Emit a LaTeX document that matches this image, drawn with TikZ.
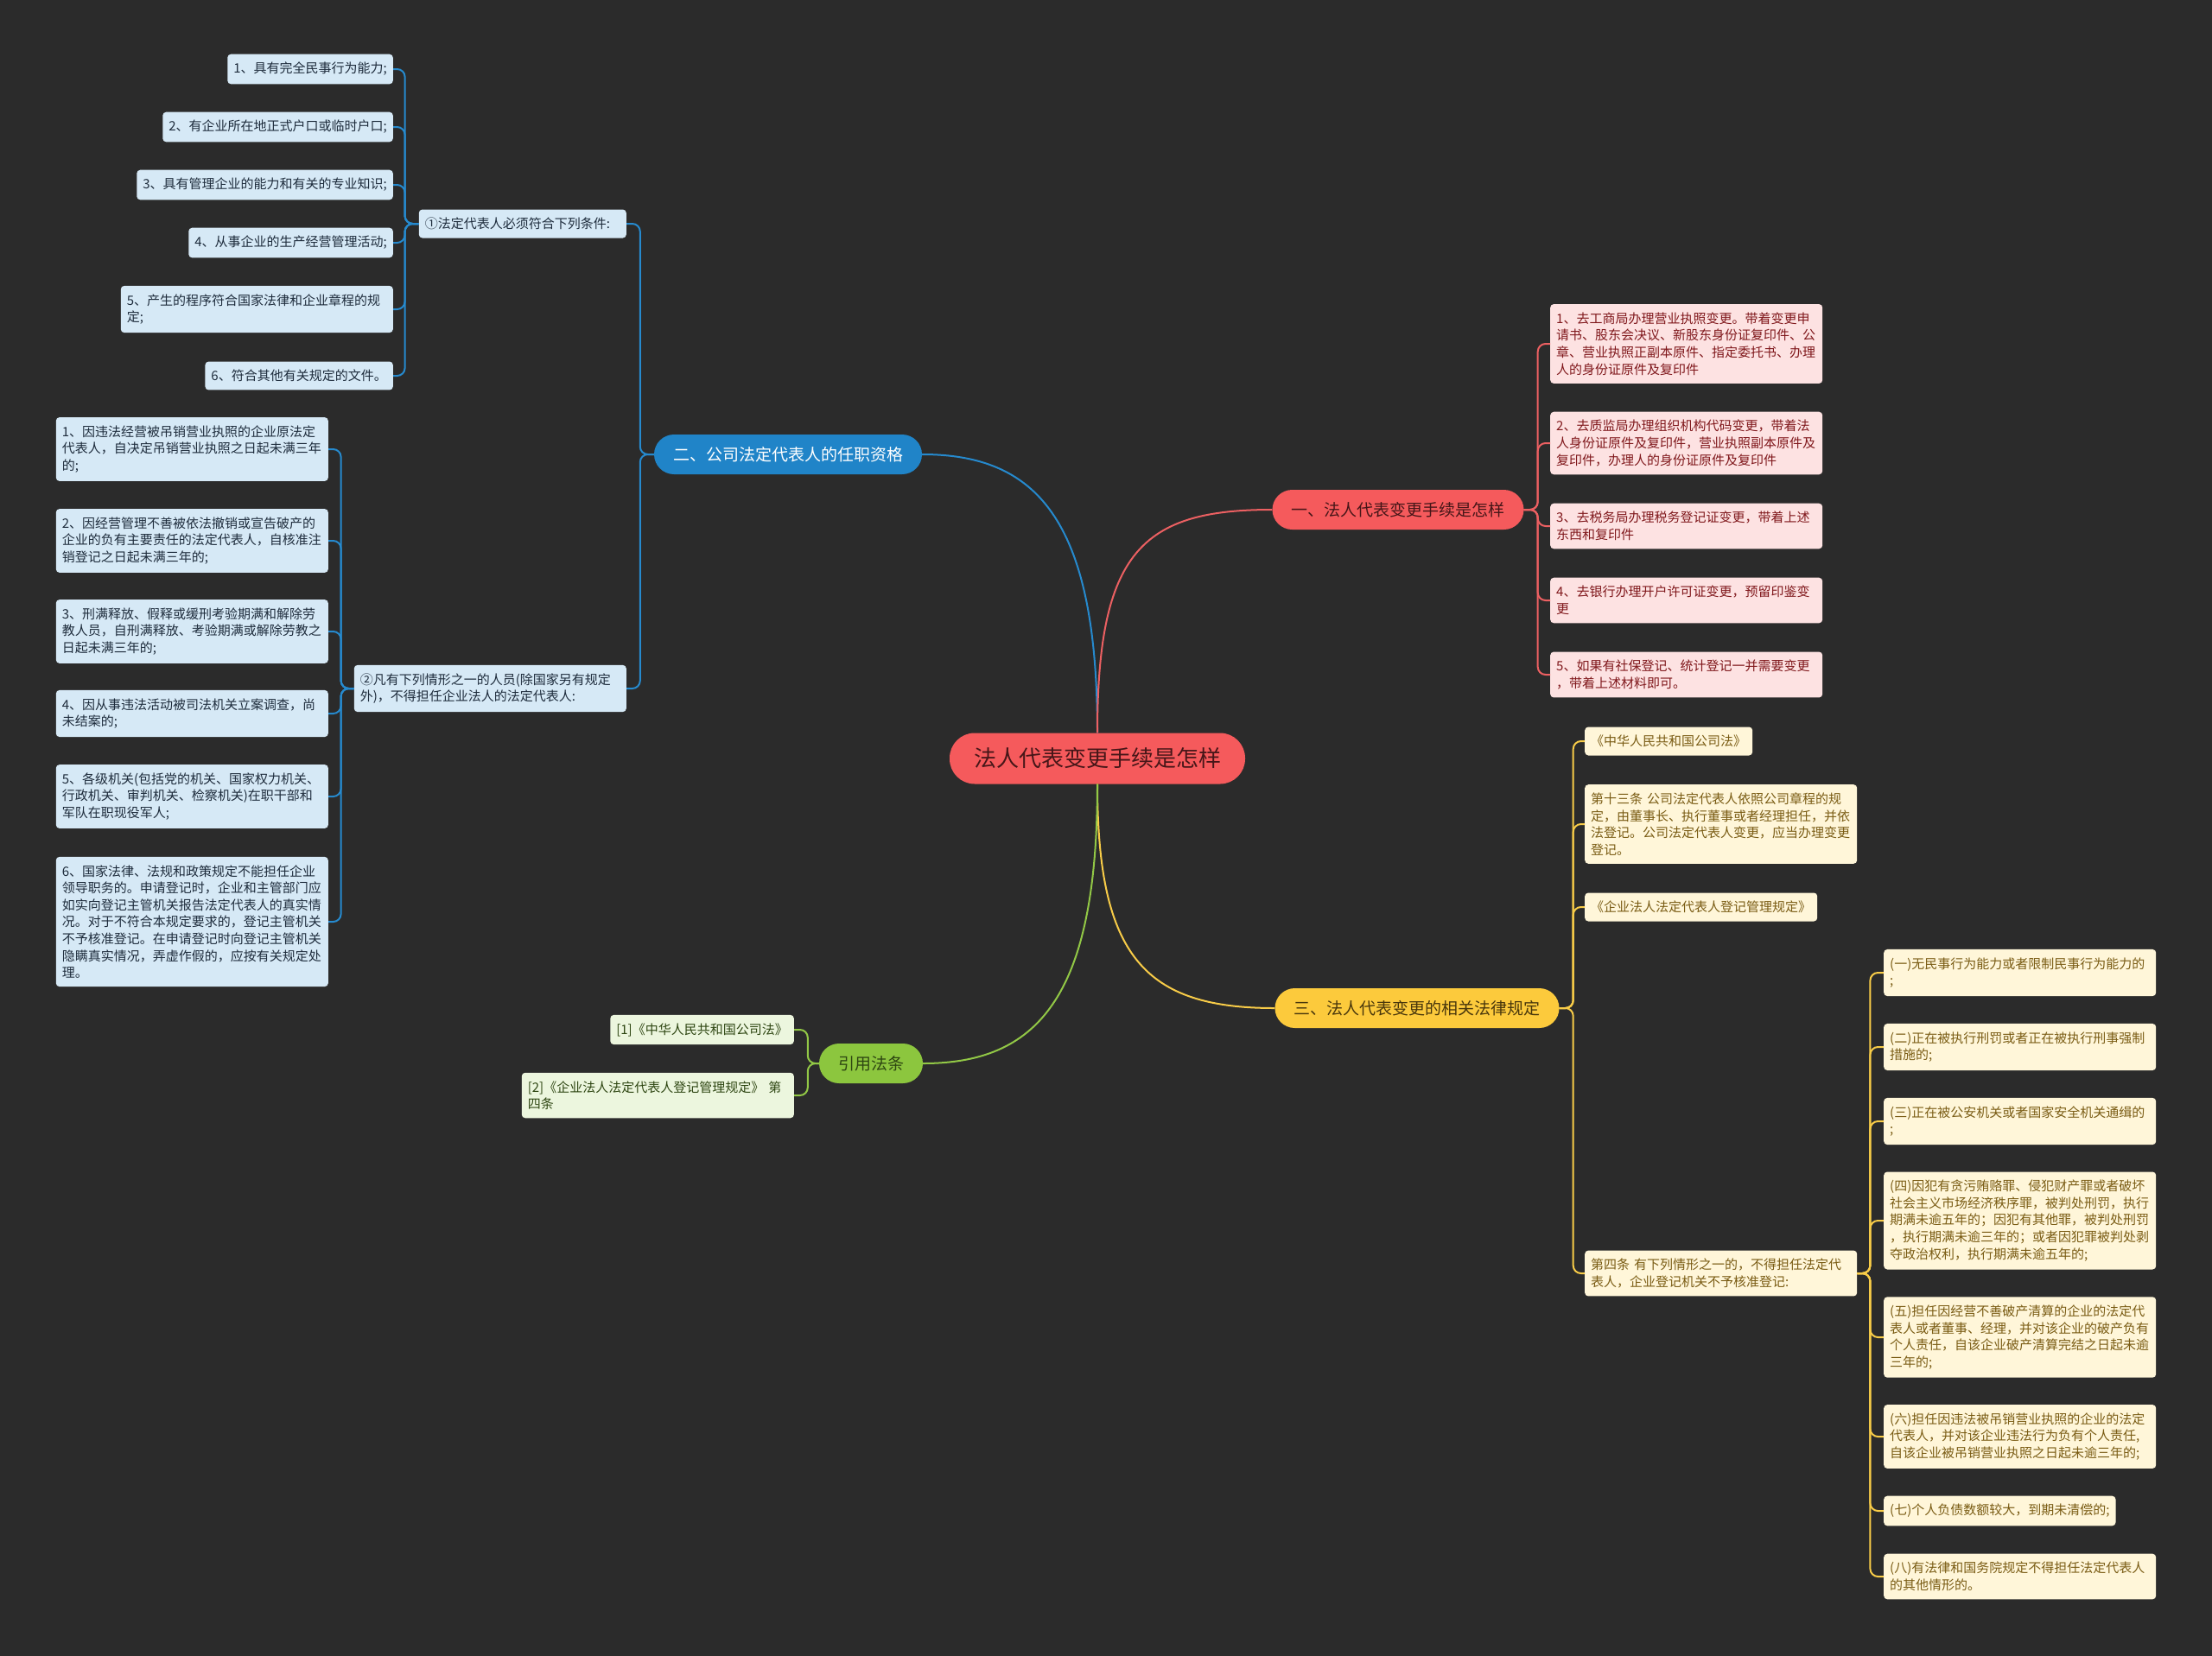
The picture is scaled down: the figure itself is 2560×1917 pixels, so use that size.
\documentclass[tikz,border=0pt]{standalone}
\usepackage{fontspec}
\setmainfont{Noto Sans CJK SC}
\definecolor{bgdark}{RGB}{43,43,43}
\definecolor{rootred}{RGB}{245,90,92}
\definecolor{roottext}{RGB}{70,22,24}
\definecolor{redline}{RGB}{236,96,98}
\definecolor{redpale}{RGB}{253,226,226}
\definecolor{redtext}{RGB}{128,24,28}
\definecolor{bluemain}{RGB}{32,132,200}
\definecolor{blueline}{RGB}{38,138,206}
\definecolor{bluepale}{RGB}{214,233,246}
\definecolor{bluetext}{RGB}{30,44,60}
\definecolor{yellowmain}{RGB}{252,202,60}
\definecolor{yellowline}{RGB}{248,204,72}
\definecolor{yellowpale}{RGB}{255,246,217}
\definecolor{yellowtext}{RGB}{122,92,20}
\definecolor{greenmain}{RGB}{140,198,62}
\definecolor{greenline}{RGB}{146,200,70}
\definecolor{greenpale}{RGB}{236,246,222}
\definecolor{greentext}{RGB}{46,70,18}
\tikzset{
  topic/.style={rounded corners=23pt, minimum height=46pt, inner xsep=22pt, inner ysep=0pt,
    font=\fontsize{19pt}{22pt}\selectfont},
  leaf/.style={rounded corners=4pt, inner xsep=7pt, inner ysep=9.5pt, align=left,
    font=\fontsize{15pt}{19.6pt}\selectfont},
  wide/.style={text width=301pt},
  redleaf/.style={leaf, fill=redpale, text=redtext},
  blueleaf/.style={leaf, fill=bluepale, text=bluetext},
  yellowleaf/.style={leaf, fill=yellowpale, text=yellowtext},
  greenleaf/.style={leaf, fill=greenpale, text=greentext},
  link/.style={line width=2pt, rounded corners=9pt},
}
\begin{document}
\begin{tikzpicture}[x=1pt,y=-1pt]
  \fill[bgdark] (0,0) rectangle (2560,1917);
  % root and main topics
  \node[fill=rootred, text=roottext, rounded corners=29pt, minimum height=59pt, inner xsep=28pt,
    font=\fontsize{26pt}{30pt}\selectfont] (root) at (1270,878) {法人代表变更手续是怎样};
  \node[topic, fill=rootred, text=roottext] (steps) at (1618,590) {一、法人代表变更手续是怎样};
  \node[topic, fill=bluemain, text=white] (quals) at (912,526) {二、公司法定代表人的任职资格};
  \node[topic, fill=yellowmain, text=yellowtext!60!black] (laws) at (1640,1167) {三、法人代表变更的相关法律规定};
  \node[topic, fill=greenmain, text=greentext] (refs) at (1008,1231) {引用法条};
  \draw[blueline, line width=2pt] (root.north) .. controls +(0,-250) and +(130,0) .. (quals.east);
  \draw[redline, line width=2pt] (root.north) .. controls +(0,-210) and +(-150,0) .. (steps.west);
  \draw[yellowline, line width=2pt] (root.south) .. controls +(0,200) and +(-150,0) .. (laws.west);
  \draw[greenline, line width=2pt] (root.south) .. controls +(0,250) and +(130,0) .. (refs.east);

  % 一、手续
  \node[redleaf, wide, anchor=west] (s1) at (1794,398) {1、去工商局办理营业执照变更。带着变更申\\请书、股东会决议、新股东身份证复印件、公\\章、营业执照正副本原件、指定委托书、办理\\人的身份证原件及复印件};
  \node[redleaf, wide, anchor=west] (s2) at (1794,513) {2、去质监局办理组织机构代码变更，带着法\\人身份证原件及复印件，营业执照副本原件及\\复印件，办理人的身份证原件及复印件};
  \node[redleaf, wide, anchor=west] (s3) at (1794,609) {3、去税务局办理税务登记证变更，带着上述\\东西和复印件};
  \node[redleaf, wide, anchor=west] (s4) at (1794,695) {4、去银行办理开户许可证变更，预留印鉴变\\更};
  \node[redleaf, wide, anchor=west] (s5) at (1794,781) {5、如果有社保登记、统计登记一并需要变更\\，带着上述材料即可。};
  \foreach \c in {s1,s2,s3,s4,s5}
    \draw[link, redline] (steps.east) -- ++(16,0) |- (\c.west);

  % 二、任职资格
  \node[blueleaf, text width=226pt, anchor=east] (q1) at (725,259) {①法定代表人必须符合下列条件:};
  \node[blueleaf, wide, anchor=east] (q2) at (725,797) {②凡有下列情形之一的人员(除国家另有规定\\外)，不得担任企业法人的法定代表人:};
  \foreach \c in {q1,q2}
    \draw[link, blueline] (quals.west) -- ++(-16,0) |- (\c.east);
  \node[blueleaf, anchor=east] (q1a) at (455,80) {1、具有完全民事行为能力;};
  \node[blueleaf, anchor=east] (q1b) at (455,147) {2、有企业所在地正式户口或临时户口;};
  \node[blueleaf, anchor=east] (q1c) at (455,214) {3、具有管理企业的能力和有关的专业知识;};
  \node[blueleaf, anchor=east] (q1d) at (455,281) {4、从事企业的生产经营管理活动;};
  \node[blueleaf, wide, anchor=east] (q1e) at (455,358) {5、产生的程序符合国家法律和企业章程的规\\定;};
  \node[blueleaf, anchor=east] (q1f) at (455,435) {6、符合其他有关规定的文件。};
  \foreach \c in {q1a,q1b,q1c,q1d,q1e,q1f}
    \draw[link, blueline] (q1.west) -- ++(-16,0) |- (\c.east);
  \node[blueleaf, wide, anchor=east] (q2a) at (380,520) {1、因违法经营被吊销营业执照的企业原法定\\代表人，自决定吊销营业执照之日起未满三年\\的;};
  \node[blueleaf, wide, anchor=east] (q2b) at (380,626) {2、因经营管理不善被依法撤销或宣告破产的\\企业的负有主要责任的法定代表人，自核准注\\销登记之日起未满三年的;};
  \node[blueleaf, wide, anchor=east] (q2c) at (380,731) {3、刑满释放、假释或缓刑考验期满和解除劳\\教人员，自刑满释放、考验期满或解除劳教之\\日起未满三年的;};
  \node[blueleaf, wide, anchor=east] (q2d) at (380,826) {4、因从事违法活动被司法机关立案调查，尚\\未结案的;};
  \node[blueleaf, wide, anchor=east] (q2e) at (380,922) {5、各级机关(包括党的机关、国家权力机关、\\行政机关、审判机关、检察机关)在职干部和\\军队在职现役军人;};
  \node[blueleaf, wide, anchor=east] (q2f) at (380,1067) {6、国家法律、法规和政策规定不能担任企业\\领导职务的。申请登记时，企业和主管部门应\\如实向登记主管机关报告法定代表人的真实情\\况。对于不符合本规定要求的，登记主管机关\\不予核准登记。在申请登记时向登记主管机关\\隐瞒真实情况，弄虚作假的，应按有关规定处\\理。};
  \foreach \c in {q2a,q2b,q2c,q2d,q2e,q2f}
    \draw[link, blueline] (q2.west) -- ++(-15,0) |- (\c.east);

  % 三、法律规定
  \node[yellowleaf, anchor=west] (l1) at (1834,858) {《中华人民共和国公司法》};
  \node[yellowleaf, wide, anchor=west] (l2) at (1834,954) {第十三条 公司法定代表人依照公司章程的规\\定，由董事长、执行董事或者经理担任，并依\\法登记。公司法定代表人变更，应当办理变更\\登记。};
  \node[yellowleaf, anchor=west] (l3) at (1834,1050) {《企业法人法定代表人登记管理规定》};
  \node[yellowleaf, wide, anchor=west] (l4) at (1834,1474) {第四条 有下列情形之一的，不得担任法定代\\表人，企业登记机关不予核准登记:};
  \foreach \c in {l1,l2,l3,l4}
    \draw[link, yellowline] (laws.east) -- ++(16,0) |- (\c.west);
  \node[yellowleaf, wide, anchor=west] (l4a) at (2180,1126) {(一)无民事行为能力或者限制民事行为能力的\\;};
  \node[yellowleaf, wide, anchor=west] (l4b) at (2180,1212) {(二)正在被执行刑罚或者正在被执行刑事强制\\措施的;};
  \node[yellowleaf, wide, anchor=west] (l4c) at (2180,1298) {(三)正在被公安机关或者国家安全机关通缉的\\;};
  \node[yellowleaf, wide, anchor=west] (l4d) at (2180,1413) {(四)因犯有贪污贿赂罪、侵犯财产罪或者破坏\\社会主义市场经济秩序罪，被判处刑罚，执行\\期满未逾五年的；因犯有其他罪，被判处刑罚\\，执行期满未逾三年的；或者因犯罪被判处剥\\夺政治权利，执行期满未逾五年的;};
  \node[yellowleaf, wide, anchor=west] (l4e) at (2180,1548) {(五)担任因经营不善破产清算的企业的法定代\\表人或者董事、经理，并对该企业的破产负有\\个人责任，自该企业破产清算完结之日起未逾\\三年的;};
  \node[yellowleaf, wide, anchor=west] (l4f) at (2180,1663) {(六)担任因违法被吊销营业执照的企业的法定\\代表人，并对该企业违法行为负有个人责任,\\自该企业被吊销营业执照之日起未逾三年的;};
  \node[yellowleaf, anchor=west] (l4g) at (2180,1749) {(七)个人负债数额较大，到期未清偿的;};
  \node[yellowleaf, wide, anchor=west] (l4h) at (2180,1825) {(八)有法律和国务院规定不得担任法定代表人\\的其他情形的。};
  \foreach \c in {l4a,l4b,l4c,l4d,l4e,l4f,l4g,l4h}
    \draw[link, yellowline] (l4.east) -- ++(15,0) |- (\c.west);

  % 引用法条
  \node[greenleaf, anchor=east] (r1) at (919,1192) {[1]《中华人民共和国公司法》};
  \node[greenleaf, wide, anchor=east] (r2) at (919,1268) {[2]《企业法人法定代表人登记管理规定》 第\\四条};
  \foreach \c in {r1,r2}
    \draw[link, greenline] (refs.west) -- ++(-13,0) |- (\c.east);
\end{tikzpicture}
\end{document}
